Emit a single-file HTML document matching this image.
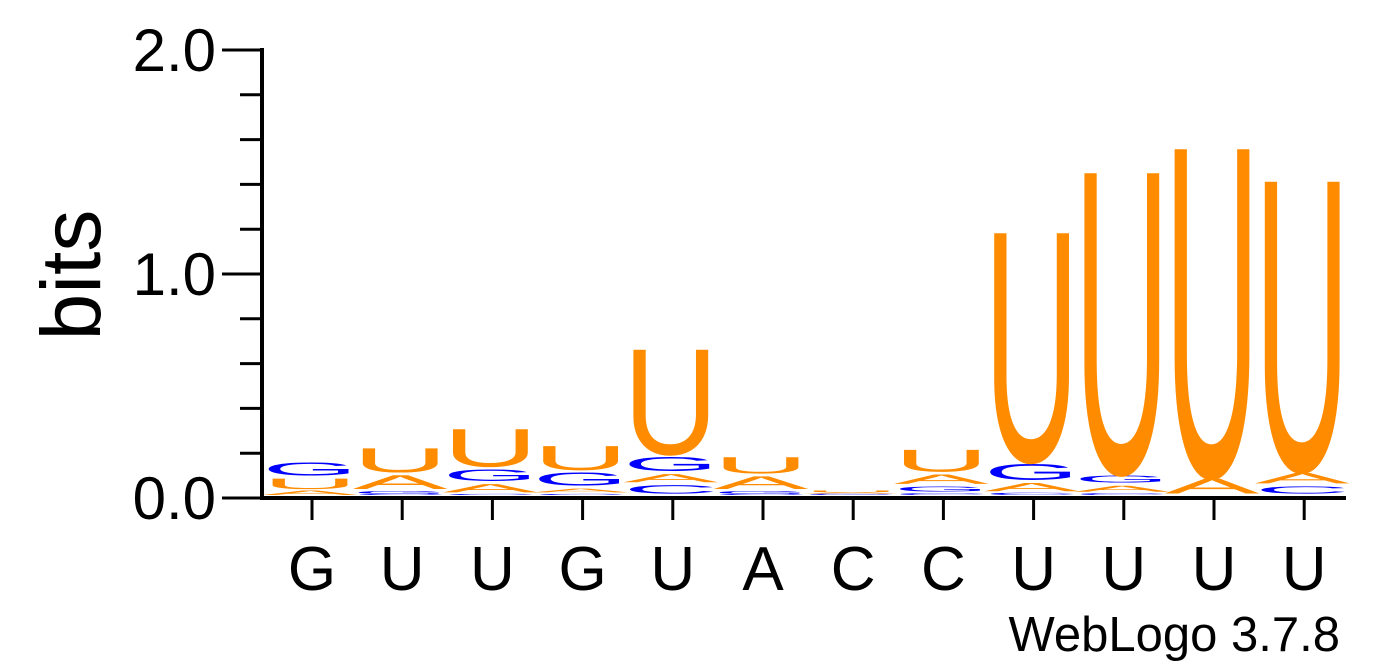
<!DOCTYPE html>
<html><head><meta charset="utf-8"><style>
html,body{margin:0;padding:0;background:#fff;}
svg{display:block;font-family:"Liberation Sans",Arial,sans-serif;}
</style></head><body>
<svg id="logo" width="1392" height="667" viewBox="0 0 1392 667" xmlns="http://www.w3.org/2000/svg">
<g id="axes"></g>
<g id="stacks"></g>
<text x="0" y="0" font-size="84" text-anchor="middle" transform="translate(100,275) rotate(-90)">bits</text>
<text x="1340" y="651" font-size="49" text-anchor="end">WebLogo 3.7.8</text>
</svg>
<script>
const positions = ["G","U","U","G","U","A","C","C","U","U","U","U"];
const stackLetters = [
 ["A","U","G"],
 ["C","G","A","U"],
 ["C","A","G","U"],
 ["C","A","G","U"],
 ["C","A","G","U"],
 ["C","G","A","U"],
 ["G","C","A","U"],
 ["C","G","A","U"],
 ["C","A","G","U"],
 ["C","A","G","U"],
 ["A","U"],
 ["C","A","U"]
];
const stackBits = [
 [0.02,0.06,0.07],
 [0.005,0.015,0.075,0.12],
 [0.005,0.05,0.065,0.18],
 [0.005,0.03,0.07,0.12],
 [0.05,0.05,0.075,0.48],
 [0.005,0.015,0.07,0.085],
 [0.002,0.004,0.006,0.008],
 [0.008,0.035,0.055,0.11],
 [0.01,0.05,0.085,1.03],
 [0.008,0.04,0.045,1.35],
 [0.08,1.47],
 [0.045,0.06,1.30]
];
const yTicks = [0,0.2,0.4,0.6,0.8,1.0,1.2,1.4,1.6,1.8,2.0];
const yLabels = ["0.0","1.0","2.0"];
const labelVals = [0,1,2];

const NS="http://www.w3.org/2000/svg";
const base=498, pxPerBit=224, x0=310, step=90.2, w=82;
const yS=v=>base-v*pxPerBit;
const xS=i=>x0+i*step;
const colors={A:"#FF8C00",U:"#FF8C00",G:"#0000FF",C:"#0000FF"};
function mk(tag,attrs,parent){const e=document.createElementNS(NS,tag);for(const k in attrs)e.setAttribute(k,attrs[k]);parent.appendChild(e);return e;}
const axes=document.getElementById('axes');
const stacks=document.getElementById('stacks');
let yl=mk('line',{x1:262,y1:yS(2)-2,x2:262,y2:base+2,stroke:'#000','stroke-width':4},axes);


yTicks.forEach(t=>{
 const major=labelVals.some(v=>Math.abs(v-t)<1e-6);
 const tk=mk('line',{x1:major?222:240,y1:yS(t),x2:262,y2:yS(t),stroke:'#000','stroke-width':3},axes);
 
 
});
labelVals.forEach((v,i)=>{
 const t=mk('text',{x:216,y:yS(v)+21,'font-size':60,'text-anchor':'end'},axes);
 t.textContent=yLabels[i];
 
 
});
let xl=mk('line',{x1:260,y1:base,x2:1346,y2:base,stroke:'#000','stroke-width':4},axes);


positions.forEach((p,i)=>{
 const tk=mk('line',{x1:xS(i)+2,y1:base,x2:xS(i)+2,y2:520,stroke:'#000','stroke-width':3},axes);
 
 
 const t=mk('text',{x:xS(i)+2,y:590,'font-size':62,'text-anchor':'middle'},axes);
 t.textContent=p;
 
 
});
const capH=68.8;
const sbFrac=0.08;
stackLetters.forEach((letters,i)=>{
 let cum=0;
 letters.forEach((L,j)=>{
  const b=stackBits[i][j]; if(!b) return;
  const bot=yS(cum)-3; cum+=b;
  const top=yS(cum)-3;
  let h=bot-top; const pad=h>6?1.5:0;
  h=Math.max(h-2*pad,0.4);
  const tl=w*(1+2*sbFrac);
  const g=mk('text',{x:0,y:0,'font-size':100,fill:colors[L],textLength:tl,lengthAdjust:'spacingAndGlyphs',
   transform:`translate(${xS(i)-w/2-w*sbFrac},${bot-pad}) scale(1,${h/capH})`},stacks);
  g.textContent=L;
  
  
 });
});
</script>
</body></html>
